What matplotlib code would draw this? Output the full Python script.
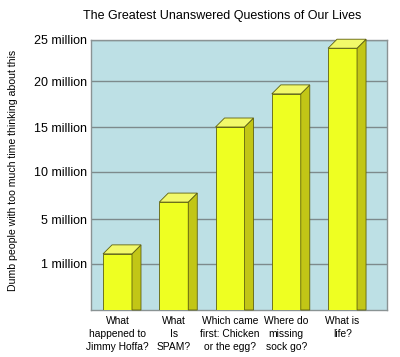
import numpy as np
import matplotlib.pyplot as plt
from matplotlib.patches import Polygon

# Daten (Werte in Millionen)
questions = ["What\nhappened to\nJimmy Hoffa?", "What\nIs\nSPAM?",
             "Which came\nfirst: Chicken\nor the egg?", "Where do\nmissing\nsock go?",
             "What is\nlife?"]
people = [1.9, 6.8, 15.0, 18.6, 24.0]
tick_values = [1, 5, 10, 15, 20, 25]
tick_labels = ["1 million", "5 million", "10 million", "15 million", "20 million", "25 million"]

# ungleichmaessige y-Achse wie im Original (Pixelabstand der Gitterlinien)
scale_vals = [0, 1, 5, 10, 15, 20, 25]
scale_pos = [0, 46, 91, 138, 183, 229, 270]

def fwd(v):
    return np.interp(v, scale_vals, scale_pos)

def inv(p):
    return np.interp(p, scale_pos, scale_vals)

plt.rcParams['font.family'] = ['Liberation Sans', 'DejaVu Sans']

fig = plt.figure(figsize=(4.0, 3.57), dpi=100)
ax = fig.add_axes([91/400, 47/357, 296/400, 270/357])
ax.set_facecolor('#bde0e5')
ax.set_yscale('function', functions=(fwd, inv))
ax.set_ylim(0, 25)
x = np.arange(len(questions))
ax.set_xlim(-0.471, 4.79)

ax.set_yticks(tick_values)
ax.set_yticklabels(tick_labels, fontsize=9)
ax.set_xticks(x)
ax.set_xticklabels(questions, fontsize=7.4, linespacing=1.4, va='top')
ax.tick_params(length=0)
ax.tick_params(axis='y', pad=3)
ax.tick_params(axis='x', pad=4)
ax.yaxis.grid(True, color='#7d8a8c', linewidth=1)
ax.set_axisbelow(True)
for s in ax.spines.values():
    s.set_color('#8a9394')
    s.set_linewidth(1)

front = '#eeff22'
top = '#f2f96a'
side = '#c2c616'
edge = '#5e6010'
width = 0.515
bars = ax.bar(x, people, width, color=front, edgecolor=edge, linewidth=0.6, zorder=3)

# 3D-Effekt: Deckel und Seitenflaeche in Pixeln
dx, dy = 9, 9
for b in bars:
    (x0, y0), (x1, y1) = ax.transData.transform([(b.get_x(), 0), (b.get_x() + b.get_width(), b.get_height())])
    ax.add_patch(Polygon([(x1, y0), (x1, y1), (x1 + dx, y1 + dy), (x1 + dx, y0)], closed=True,
                         transform=None, facecolor=side, edgecolor=edge, linewidth=0.6, zorder=3, clip_on=False))
    ax.add_patch(Polygon([(x0, y1), (x1, y1), (x1 + dx, y1 + dy), (x0 + dx, y1 + dy)], closed=True,
                         transform=None, facecolor=top, edgecolor=edge, linewidth=0.6, zorder=3, clip_on=False))

fig.text(222/400, 1 - 16/357, "The Greatest Unanswered Questions of Our Lives",
         ha='center', va='center', fontsize=9)
fig.text(13/400, 1 - 170/357, "Dumb people with too much time thinking about this",
         rotation=90, ha='center', va='center', fontsize=7.6)

fig.savefig('out.png', dpi=100, facecolor='white')
